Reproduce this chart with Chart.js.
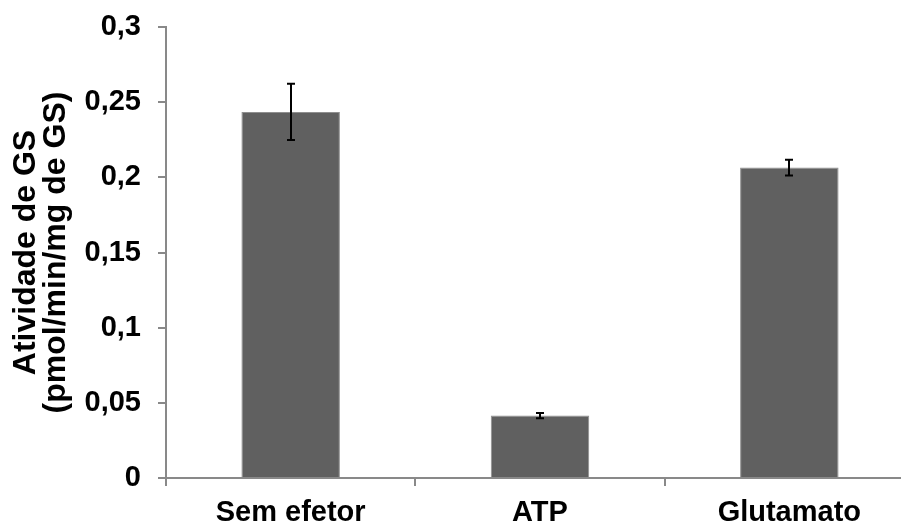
<!DOCTYPE html>
<html>
<head>
<meta charset="utf-8">
<script src="https://cdn.jsdelivr.net/npm/chart.js@4"></script>
<style>
html,body{margin:0;padding:0;background:#fff;overflow:hidden;}
#wrap{width:914px;height:522px;}
</style>
</head>
<body>
<div id="wrap"><canvas id="grafico"></canvas></div>
<script>
// dados
const categorias=['Sem efetor','ATP','Glutamato'];
const atividade=[0.2435,0.0415,0.2065];
const erro=[0.0187,0.0018,0.0052];
const yTicks=[0,0.05,0.1,0.15,0.2,0.25,0.3];
const yTickLabels=['0','0,05','0,1','0,15','0,2','0,25','0,3'];
const tituloY=['Atividade de GS','(pmol/min/mg de GS)'];

const corEixo='#898989';
const fonte='"Liberation Sans", Arial, sans-serif';

const barrasErro={
id:'barrasErro',
afterDatasetsDraw(chart){
let ctx=chart.ctx;
let y=chart.scales.y;
let meta=chart.getDatasetMeta(0);
ctx.save();
ctx.strokeStyle='#000';
ctx.lineWidth=2;
meta.data.forEach(function(bar,i){
let x=Math.round(bar.x);
let yTop=y.getPixelForValue(atividade[i]+erro[i]);
let yBot=y.getPixelForValue(atividade[i]-erro[i]);
ctx.beginPath();
ctx.moveTo(x,yTop);ctx.lineTo(x,yBot);
ctx.moveTo(x-4,yTop);ctx.lineTo(x+4,yTop);
ctx.moveTo(x-4,yBot);ctx.lineTo(x+4,yBot);
ctx.stroke();
});
ctx.restore();
}
};

new Chart(document.getElementById('grafico'),{
type:'bar',
data:{
labels:categorias,
datasets:[{
data:atividade,
backgroundColor:'#606060',
borderColor:'#8f8f8f',
borderWidth:1,
categoryPercentage:1,
barPercentage:0.395
}]
},
options:{
responsive:true,
maintainAspectRatio:false,
animation:false,
layout:{padding:{top:27,left:0,right:0,bottom:0}},
plugins:{legend:{display:false},tooltip:{enabled:false}},
scales:{
x:{
grid:{drawOnChartArea:false,drawTicks:true,tickLength:8,color:corEixo,lineWidth:2,offset:true},
border:{color:corEixo,width:2},
ticks:{color:'#000',padding:10,font:{family:fonte,size:29,weight:'bold'}},
afterFit(s){s.height=44;s.paddingLeft=0;s.paddingRight=0;}
},
y:{
min:0,max:0.3,
afterBuildTicks(s){s.ticks=yTicks.map(v=>({value:v}));},
grid:{drawOnChartArea:false,drawTicks:true,tickLength:8,color:corEixo,lineWidth:2},
border:{color:corEixo,width:2},
ticks:{color:'#000',padding:17,font:{family:fonte,size:29,weight:'bold'},
callback:(v,i)=>yTickLabels[i]},
title:{display:true,text:tituloY,color:'#000',padding:{top:11,bottom:0},
font:{family:fonte,size:32,weight:'bold',lineHeight:0.95}},
afterFit(s){s.width=166;s.paddingTop=0;s.paddingBottom=0;}
}
}
},
plugins:[barrasErro]
});
</script>
</body>
</html>
